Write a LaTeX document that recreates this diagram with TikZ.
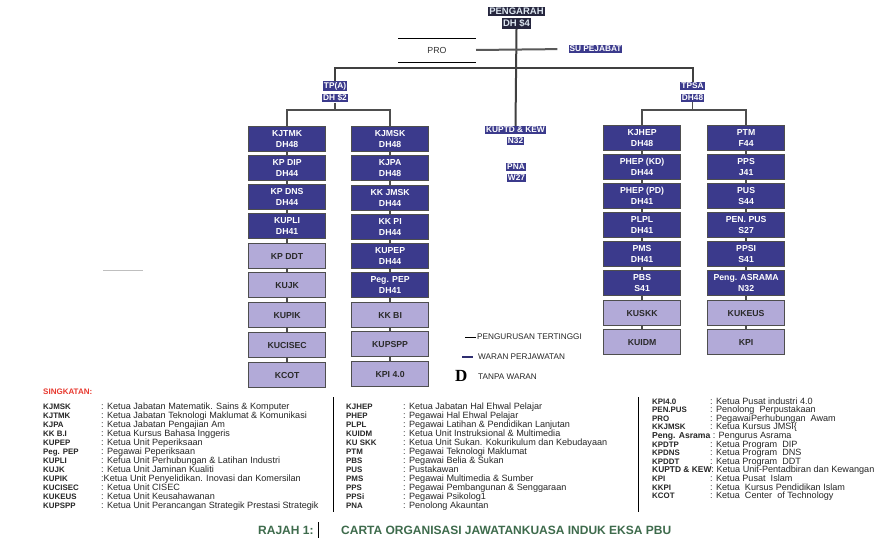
\documentclass[tikz,border=0pt]{standalone}
\usepackage{fontspec}
\setmainfont{Liberation Sans}
\definecolor{navy}{HTML}{3B3A8C}
\definecolor{lav}{HTML}{B2AAD8}
\definecolor{edge}{HTML}{4E4E4E}
\definecolor{ink}{HTML}{2A2A2A}
\definecolor{capgreen}{HTML}{3E6B4C}
\definecolor{singred}{HTML}{E8392F}
\definecolor{topbg}{HTML}{26263E}
\definecolor{toptext}{HTML}{DCE6F0}
\newcommand{\abdfont}{\mdseries\fontsize{9.1}{9.5}\selectfont}
\tikzset{
  boxbase/.style={draw=edge, line width=1.2pt, minimum width=77pt, minimum height=25pt,
    align=center, inner sep=0pt, anchor=north west,
    font=\bfseries\fontsize{8.7}{11}\selectfont},
  darkbox/.style={boxbase, fill=navy, text=white},
  lightbox/.style={boxbase, fill=lav, text=ink},
  conn/.style={draw=edge, line width=1.4pt},
  trunk/.style={draw=black!75, line width=2pt},
  tag/.style={fill=navy, text=white, inner sep=1pt, font=\bfseries\fontsize{8.3}{9}\selectfont},
  toptag/.style={fill=topbg, text=toptext, inner sep=1.2pt, font=\bfseries\fontsize{9.5}{10}\selectfont},
  abl/.style={anchor=base west, inner sep=0pt, font=\bfseries\fontsize{7.9}{8}\selectfont, text=black!85},
  abd/.style={anchor=base west, inner sep=0pt, font=\abdfont, text=black!85},
  leg/.style={anchor=west, inner sep=0pt, font=\fontsize{8.2}{8.5}\selectfont, text=black!85},
}
\begin{document}
\begin{tikzpicture}[x=1pt,y=-1pt]
\useasboundingbox (0,0) rectangle (885,556);
\fill[white] (0,0) rectangle (885,556);

% ---- top ----
\node[toptag] (peng1) at (516.5,11.5) {PENGARAH};
\node[toptag] (peng2) at (516.5,23.5) {DH \$4};
\node[tag] (kuptd1) at (515.5,130) {KUPTD \& KEW};
\node[tag] (kuptd2) at (515.5,141) {N32};
\node[tag] (pna1) at (516,167) {PNA};
\node[tag] (pna2) at (516.5,178) {W27};
\draw[trunk] (peng2.south) -- (kuptd1.north);

\coordinate (proTL) at (398,38);
\coordinate (proTR) at (476,38);
\coordinate (proBL) at (398,62);
\coordinate (proBR) at (476,62);
\draw[black, line width=0.8pt] (proTL) -- (proTR);
\draw[black, line width=0.8pt] (proBL) -- (proBR);
\node[font=\fontsize{8.8}{9}\selectfont, text=black!80] (pro) at (437,50) {PRO};
\node[tag] (supej) at (595.5,49) {SU PEJABAT};
\coordinate (proR) at (476,50);
\draw[trunk, draw=black!65, shorten >=11pt] (proR) -- (supej.west);

\node[tag] (tpa1) at (335,86) {TP(A)};
\node[tag] (tpa2) at (335,98) {DH \$2};
\node[tag] (tpsa1) at (692.5,86) {TPSA};
\node[tag] (tpsa2) at (692.5,98) {DH48};
\coordinate (hL) at (335,68);
\coordinate (hR) at (692.5,68);
\draw[trunk] (tpa1.north) -- (hL) -- (hR) -- (tpsa1.north);

% ---- left group ----
\node[darkbox]  (a1) at (248,126) {KJTMK\\DH48};
\node[darkbox]  (a2) at (248,155) {KP DIP\\DH44};
\node[darkbox]  (a3) at (248,184) {KP DNS\\DH44};
\node[darkbox]  (a4) at (248,213) {KUPLI\\DH41};
\node[lightbox] (a5) at (248,243) {KP DDT};
\node[lightbox] (a6) at (248,272) {KUJK};
\node[lightbox] (a7) at (248,302) {KUPIK};
\node[lightbox] (a8) at (248,332) {KUCISEC};
\node[lightbox] (a9) at (248,362) {KCOT};

\node[darkbox]  (b1) at (351,126) {KJMSK\\DH48};
\node[darkbox]  (b2) at (351,155) {KJPA\\DH48};
\node[darkbox]  (b3) at (351,185) {KK JMSK\\DH44};
\node[darkbox]  (b4) at (351,214) {KK PI\\DH44};
\node[darkbox]  (b5) at (351,243) {KUPEP\\DH44};
\node[darkbox]  (b6) at (351,272) {Peg. PEP\\DH41};
\node[lightbox] (b7) at (351,302) {KK BI};
\node[lightbox] (b8) at (351,331) {KUPSPP};
\node[lightbox] (b9) at (351,361) {KPI 4.0};

\foreach \i [evaluate=\i as \j using int(\i+1)] in {1,...,8} {
  \draw[conn] (a\i.south) -- (a\j.north);
  \draw[conn] (b\i.south) -- (b\j.north);
}
\coordinate (bA) at (335,110);
\draw[conn] (tpa2.south) -- (bA);
\draw[conn] (a1.north) |- (bA) -| (b1.north);

% ---- right group ----
\node[darkbox]  (c1) at (603,125) {KJHEP\\DH48};
\node[darkbox]  (c2) at (603,154) {PHEP (KD)\\DH44};
\node[darkbox]  (c3) at (603,183) {PHEP (PD)\\DH41};
\node[darkbox]  (c4) at (603,212) {PLPL\\DH41};
\node[darkbox]  (c5) at (603,241) {PMS\\DH41};
\node[darkbox]  (c6) at (603,270) {PBS\\S41};
\node[lightbox] (c7) at (603,300) {KUSKK};
\node[lightbox] (c8) at (603,329) {KUIDM};

\node[darkbox]  (d1) at (707,125) {PTM\\F44};
\node[darkbox]  (d2) at (707,154) {PPS\\J41};
\node[darkbox]  (d3) at (707,183) {PUS\\S44};
\node[darkbox]  (d4) at (707,212) {PEN. PUS\\S27};
\node[darkbox]  (d5) at (707,241) {PPSI\\S41};
\node[darkbox]  (d6) at (707,270) {Peng. ASRAMA\\N32};
\node[lightbox] (d7) at (707,300) {KUKEUS};
\node[lightbox] (d8) at (707,329) {KPI};

\foreach \i [evaluate=\i as \j using int(\i+1)] in {1,...,7} {
  \draw[conn] (c\i.south) -- (c\j.north);
  \draw[conn] (d\i.south) -- (d\j.north);
}
\coordinate (bB) at (692.5,110);
\draw[conn] (tpsa2.south) -- (bB);
\draw[conn] (c1.north) |- (bB) -| (d1.north);

% ---- stray grey line ----
\coordinate (g1) at (103,270);
\coordinate (g2) at (143,270);
\draw[black!25, line width=0.8pt] (g1) -- (g2);

% ---- legend ----
\coordinate (l1a) at (465,337);
\coordinate (l1b) at (476,337);
\draw[black, line width=1pt] (l1a) -- (l1b);
\node[leg] (leg1) at (477,337) {PENGURUSAN TERTINGGI};
\coordinate (l2a) at (462,357);
\coordinate (l2b) at (473,357);
\draw[navy!80!black, line width=1.3pt] (l2a) -- (l2b);
\node[leg] (leg2) at (478,357) {WARAN PERJAWATAN};
\node[anchor=west, inner sep=0pt, font=\fontspec{Liberation Serif}\bfseries\fontsize{17}{17}\selectfont] (legD) at (455,376) {D};
\node[leg] (leg3) at (478,377) {TANPA WARAN};

% ---- abbreviations ----
\node[anchor=base west, inner sep=0pt, text=singred, font=\bfseries\fontsize{8}{8}\selectfont] (sing) at (43,394) {SINGKATAN:};

\foreach \l/\d [count=\i] in {
  KJMSK/{: Ketua Jabatan Matematik. Sains \& Komputer},
  KJTMK/{: Ketua Jabatan Teknologi Maklumat \& Komunikasi},
  KJPA/{: Ketua Jabatan Pengajian Am},
  KK B.I/{: Ketua Kursus Bahasa Inggeris},
  KUPEP/{: Ketua Unit Peperiksaan},
  Peg. PEP/{: Pegawai Peperiksaan},
  KUPLI/{: Kefua Unit Perhubungan \& Latihan Industri},
  KUJK/{: Ketua Unit Jaminan Kualiti},
  KUPIK/{:Ketua Unit Penyelidikan. Inovasi dan Komersilan},
  KUCISEC/{: Ketua Unit CISEC},
  KUKEUS/{: Ketua Unit Keusahawanan},
  KUPSPP/{: Ketua Unit Perancangan Strategik Prestasi Strategik}} {
  \node[abl] (p\i) at (43,{409+9*(\i-1)}) {\l};
  \node[abd] (q\i) at (101,{409+9*(\i-1)}) {\d};
}

\coordinate (v1a) at (333,397);
\coordinate (v1b) at (333,512);
\draw[black, line width=0.8pt] (v1a) -- (v1b);
\foreach \l/\d [count=\i] in {
  KJHEP/{: Ketua Jabatan Hal Ehwal Pelajar},
  PHEP/{: Pegawai Hal Ehwal Pelajar},
  PLPL/{: Pegawai Latihan \& Pendidikan Lanjutan},
  KUIDM/{: Ketua Unit Instruksional \& Multimedia},
  KU SKK/{: Ketua Unit Sukan. Kokurikulum dan Kebudayaan},
  PTM/{: Pegawai Teknologi Maklumat},
  PBS/{: Pegawai Belia \& Sukan},
  PUS/{: Pustakawan},
  PMS/{: Pegawai Multimedia \& Sumber},
  PPS/{: Pegawai Pembangunan \& Senggaraan},
  PPSi/{: Pegawai Psikolog1},
  PNA/{: Penolong Akauntan}} {
  \node[abl] (r\i) at (346,{409+9*(\i-1)}) {\l};
  \node[abd] (s\i) at (403,{409+9*(\i-1)}) {\d};
}

\coordinate (v2a) at (638,397);
\coordinate (v2b) at (638,512);
\draw[black, line width=0.8pt] (v2a) -- (v2b);
\foreach \l/\d [count=\i] in {
  KPI4.0/{: Ketua Pusat industri 4.0},
  PEN.PUS/{: Penolong\ \ Perpustakaan},
  PRO/{: PegawaiPerhubungan\ \ Awam},
  KKJMSK/{: Ketua Kursus JMSI\{},
  {}/{},
  KPDTP/{: Ketua Program\ \ DIP},
  KPDNS/{: Ketua Program\ \ DNS},
  KPDDT/{: Ketua Program\ \ DDT},
  {}/{},
  KPI/{: Ketua Pusat\ \ Islam},
  KKPI/{: Ketua\ \ Kursus Pendidikan Islam},
  KCOT/{: Ketua\ \ Center\ \ of Technology}} {
  \node[abl] (t\i) at (652,{404+8.6*(\i-1)}) {\l};
  \node[abd] (u\i) at (710,{404+8.6*(\i-1)}) {\d};
}
\node[abl] (asr) at (652,{404+8.6*4}) {\fontsize{8.6}{9}\selectfont Peng. Asrama {\abdfont: Pengurus Asrama}};
\node[abl] (kew) at (652,{404+8.6*8}) {\fontsize{8.4}{9}\selectfont KUPTD \& KEW{\abdfont: Ketua Unit-Pentadbiran dan Kewangan}};

% ---- caption ----
\node[anchor=base west, inner sep=0pt, text=capgreen, font=\bfseries\fontsize{12}{12}\selectfont] (raj) at (258,534) {RAJAH 1:};
\coordinate (cur1) at (318,522);
\coordinate (cur2) at (318,538);
\draw[black, line width=0.8pt] (cur1) -- (cur2);
\node[anchor=base west, inner sep=0pt, text=capgreen, font=\bfseries\fontsize{12}{12}\selectfont] (cap) at (341,534) {CARTA ORGANISASI JAWATANKUASA INDUK EKSA PBU};
\end{tikzpicture}
\end{document}
